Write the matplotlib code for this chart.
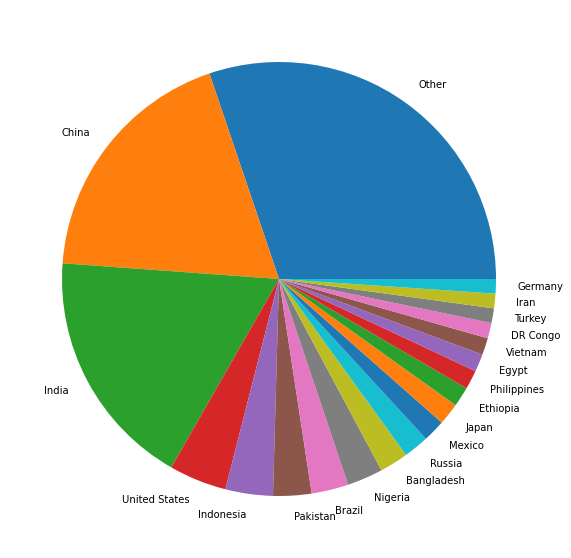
import matplotlib
matplotlib.use("Agg")
import matplotlib.pyplot as plt

countries = ["Other", "China", "India", "United States", "Indonesia", "Pakistan",
             "Brazil", "Nigeria", "Bangladesh", "Russia", "Mexico", "Japan",
             "Ethiopia", "Philippines", "Egypt", "Vietnam", "DR Congo", "Turkey",
             "Iran", "Germany"]
population = [2330, 1439, 1380, 331, 273, 220, 212, 206, 164, 145, 128, 126,
              114, 109, 102, 97, 89, 84, 84, 83]

fig = plt.figure(figsize=(571 / 72, 558 / 72), dpi=72)
fig.patch.set_facecolor("white")
ax = fig.add_axes([7.75 / 571, 7.75 / 558, 542.5 / 571, 542.5 / 558])
ax.pie(population, labels=countries, textprops={"fontsize": 10})
fig.savefig("out.png", dpi=72, facecolor="white")
